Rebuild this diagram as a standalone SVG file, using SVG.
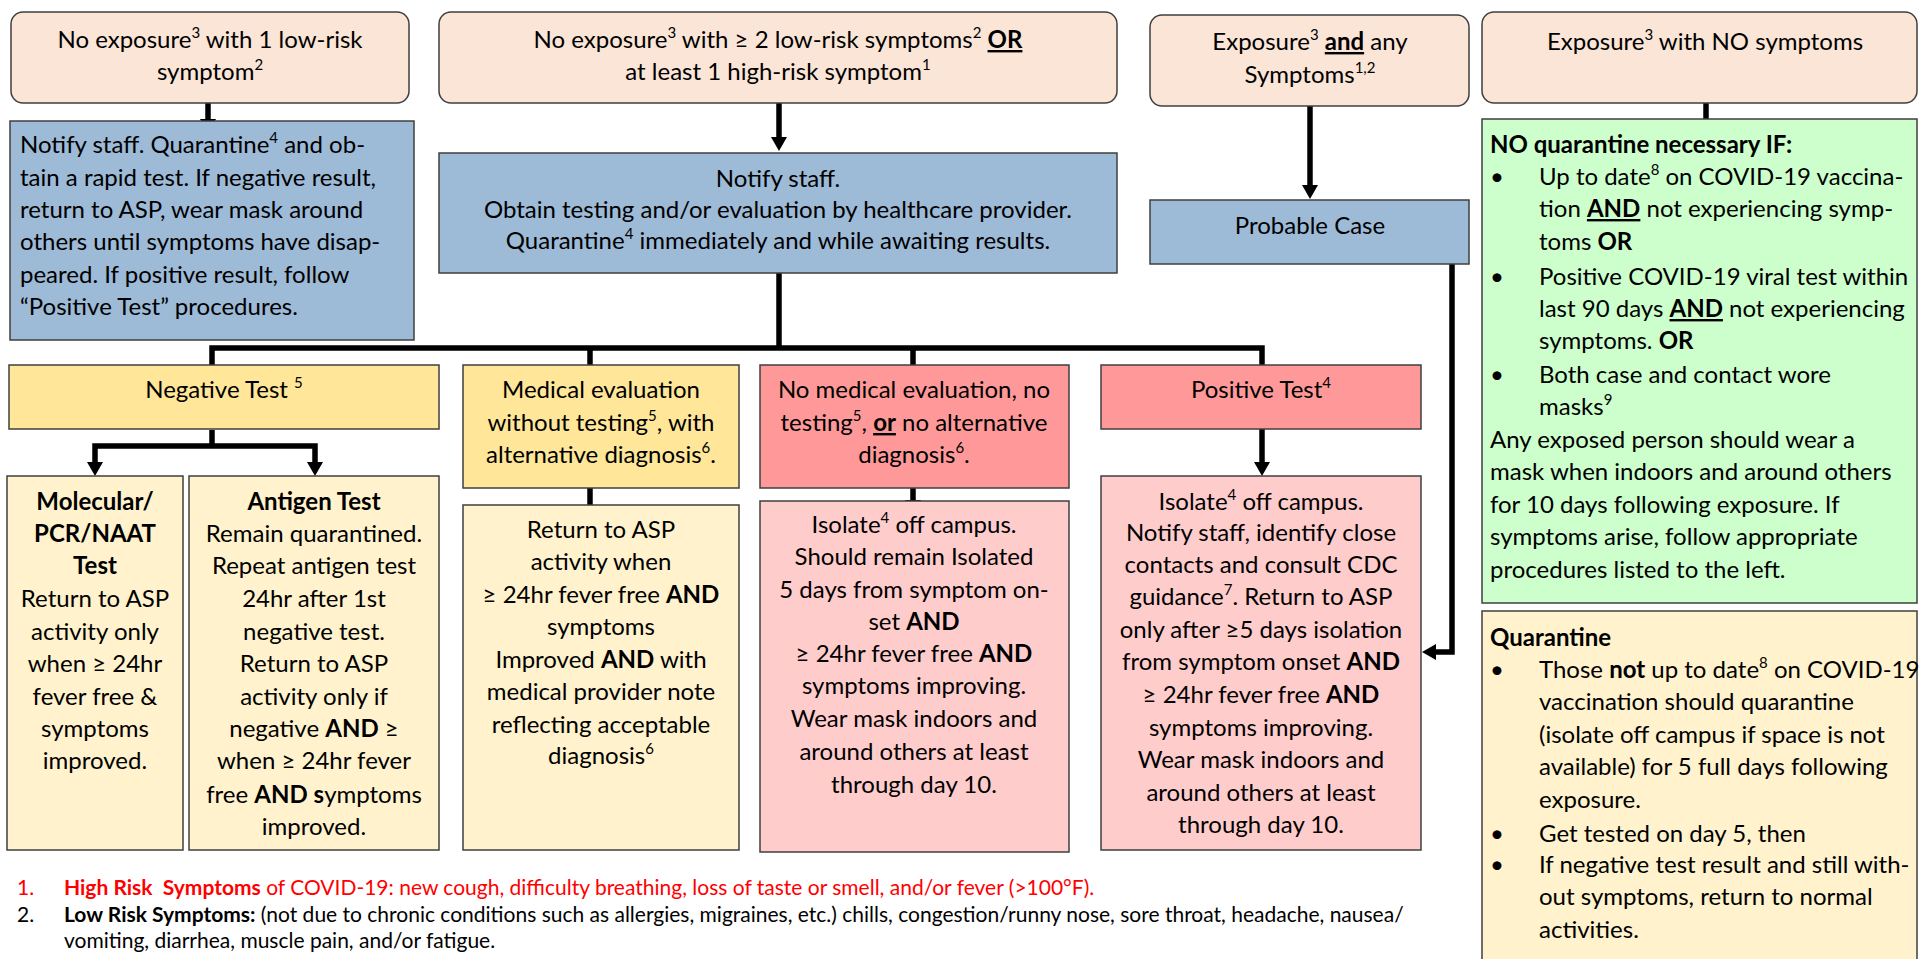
<svg xmlns="http://www.w3.org/2000/svg" width="1919" height="959" viewBox="0 0 1919 959">
<style>
.box{stroke:#3f3f3f;stroke-width:1.5}
.peach{fill:#FBE5D6}
.blue{fill:#9DBAD7}
.gold{fill:#FFE699}
.ly{fill:#FFF2CC}
.sal{fill:#FF9999}
.pink{fill:#FFCCCC}
.green{fill:#CCFFCC}
.t{font-family:Lato,"Liberation Sans",sans-serif;font-size:24px;fill:#000}
.c{text-anchor:middle}
.b{font-weight:bold}
.u{text-decoration:underline}
.s{font-size:15px}
.fn{font-size:21px}
.red{fill:#FF0000}
.ln{fill:none;stroke:#000;stroke-width:5.5}
</style>
<defs>
<path id="ad" d="M-8,-14 L8,-14 L0,0 Z" fill="#000"/>
<path id="al" d="M14,-8 L14,8 L0,0 Z" fill="#000"/>
</defs>
<rect width="1919" height="959" fill="#fff"/>

<g id="connectors">
<path class="ln" d="M208,103 V120"/><use href="#ad" x="208" y="133"/>
<path class="ln" d="M779,103 V138"/><use href="#ad" x="779" y="151"/>
<path class="ln" d="M1310,106 V186"/><use href="#ad" x="1310" y="199"/>
<path class="ln" d="M1706,103 V120"/><use href="#ad" x="1706" y="133"/>
<path class="ln" d="M779,273 V348"/>
<path class="ln" d="M212,368 V348 H1262 V368"/>
<path class="ln" d="M590,348 V368"/>
<path class="ln" d="M913,348 V368"/>
<use href="#ad" x="212" y="381"/><use href="#ad" x="590" y="381"/><use href="#ad" x="913" y="381"/><use href="#ad" x="1262" y="381"/>
<path class="ln" d="M212,430 V446"/>
<path class="ln" d="M95,463 V446 H315 V463"/>
<use href="#ad" x="95" y="476"/><use href="#ad" x="315" y="476"/>
<path class="ln" d="M590,488 V506"/><use href="#ad" x="590" y="519"/>
<path class="ln" d="M913,488 V501"/><use href="#ad" x="913" y="514"/>
<path class="ln" d="M1262,429 V463"/><use href="#ad" x="1262" y="476"/>
<path class="ln" d="M1452,264 V652 H1434"/><use href="#al" x="1422" y="652"/>
</g>

<g id="n1">
<rect class="box peach" x="11" y="12" width="398" height="91" rx="12"/>
<text class="t c"><tspan x="210" y="48">No exposure<tspan class="s" dy="-10">3</tspan><tspan dy="10"> with 1 low-risk</tspan></tspan><tspan x="210" y="80">symptom<tspan class="s" dy="-10">2</tspan></tspan></text>
</g>

<g id="n2">
<rect class="box peach" x="439" y="12" width="678" height="91" rx="12"/>
<text class="t c"><tspan x="778" y="48">No exposure<tspan class="s" dy="-10">3</tspan><tspan dy="10"> with ≥ 2 low-risk symptoms</tspan><tspan class="s" dy="-10">2</tspan><tspan dy="10"> </tspan><tspan class="b u">OR</tspan></tspan><tspan x="778" y="80">at least 1 high-risk symptom<tspan class="s" dy="-10">1</tspan></tspan></text>
</g>

<g id="n3">
<rect class="box peach" x="1150" y="15" width="319" height="91" rx="12"/>
<text class="t c"><tspan x="1310" y="50">Exposure<tspan class="s" dy="-10">3</tspan><tspan dy="10"> </tspan><tspan class="b u">and</tspan> any</tspan><tspan x="1310" y="83">Symptoms<tspan class="s" dy="-10">1,2</tspan></tspan></text>
</g>

<g id="n4">
<rect class="box peach" x="1482" y="12" width="435" height="91" rx="12"/>
<text class="t c"><tspan x="1705" y="50">Exposure<tspan class="s" dy="-10">3</tspan><tspan dy="10"> with NO symptoms</tspan></tspan></text>
</g>

<g id="n5">
<rect class="box blue" x="10" y="121" width="404" height="219"/>
<text class="t"><tspan x="20" y="153">Notify staff. Quarantine<tspan class="s" dy="-10">4</tspan><tspan dy="10"> and ob-</tspan></tspan><tspan x="20" y="186">tain a rapid test. If negative result,</tspan><tspan x="20" y="218">return to ASP, wear mask around</tspan><tspan x="20" y="250">others until symptoms have disap-</tspan><tspan x="20" y="283">peared. If positive result, follow</tspan><tspan x="20" y="315">“Positive Test” procedures.</tspan></text>
</g>

<g id="n6">
<rect class="box blue" x="439" y="153" width="678" height="120"/>
<text class="t c"><tspan x="778" y="187">Notify staff.</tspan><tspan x="778" y="218">Obtain testing and/or evaluation by healthcare provider.</tspan><tspan x="778" y="249">Quarantine<tspan class="s" dy="-10">4</tspan><tspan dy="10"> immediately and while awaiting results.</tspan></tspan></text>
</g>

<g id="n7">
<rect class="box blue" x="1150" y="200" width="319" height="64"/>
<text class="t c" x="1310" y="234">Probable Case</text>
</g>

<g id="n8">
<rect class="box green" x="1482" y="119" width="435" height="484"/>
<text class="t"><tspan class="b" x="1490" y="153">NO quarantine necessary IF:</tspan>
<tspan x="1490" y="185">•</tspan><tspan x="1539" y="185">Up to date<tspan class="s" dy="-10">8</tspan><tspan dy="10"> on COVID-19 vaccina-</tspan></tspan>
<tspan x="1539" y="217">tion <tspan class="b u">AND</tspan> not experiencing symp-</tspan>
<tspan x="1539" y="250">toms <tspan class="b">OR</tspan></tspan>
<tspan x="1490" y="285">•</tspan><tspan x="1539" y="285">Positive COVID-19 viral test within</tspan>
<tspan x="1539" y="317">last 90 days <tspan class="b u">AND</tspan> not experiencing</tspan>
<tspan x="1539" y="349">symptoms. <tspan class="b">OR</tspan></tspan>
<tspan x="1490" y="383">•</tspan><tspan x="1539" y="383">Both case and contact wore</tspan>
<tspan x="1539" y="415">masks<tspan class="s" dy="-10">9</tspan></tspan>
<tspan x="1490" y="448">Any exposed person should wear a</tspan>
<tspan x="1490" y="480">mask when indoors and around others</tspan>
<tspan x="1490" y="513">for 10 days following exposure. If</tspan>
<tspan x="1490" y="545">symptoms arise, follow appropriate</tspan>
<tspan x="1490" y="578">procedures listed to the left.</tspan></text>
</g>

<g id="n9">
<rect class="box ly" x="1482" y="611" width="435" height="352"/>
<text class="t"><tspan class="b" x="1490" y="646">Quarantine</tspan>
<tspan x="1490" y="678">•</tspan><tspan x="1539" y="678">Those <tspan class="b">not</tspan> up to date<tspan class="s" dy="-10">8</tspan><tspan dy="10"> on COVID-19</tspan></tspan>
<tspan x="1539" y="710">vaccination should quarantine</tspan>
<tspan x="1539" y="743">(isolate off campus if space is not</tspan>
<tspan x="1539" y="775">available) for 5 full days following</tspan>
<tspan x="1539" y="808">exposure.</tspan>
<tspan x="1490" y="842">•</tspan><tspan x="1539" y="842">Get tested on day 5, then</tspan>
<tspan x="1490" y="873">•</tspan><tspan x="1539" y="873">If negative test result and still with-</tspan>
<tspan x="1539" y="905">out symptoms, return to normal</tspan>
<tspan x="1539" y="938">activities.</tspan></text>
</g>

<g id="n10">
<rect class="box gold" x="9" y="365" width="430" height="64"/>
<text class="t c"><tspan x="224" y="398">Negative Test <tspan class="s" dy="-10">5</tspan></tspan></text>
</g>

<g id="n11">
<rect class="box gold" x="463" y="365" width="276" height="123"/>
<text class="t c"><tspan x="601" y="398">Medical evaluation</tspan><tspan x="601" y="431">without testing<tspan class="s" dy="-10">5</tspan><tspan dy="10">, with</tspan></tspan><tspan x="601" y="463">alternative diagnosis<tspan class="s" dy="-10">6</tspan><tspan dy="10">.</tspan></tspan></text>
</g>

<g id="n12">
<rect class="box sal" x="760" y="365" width="309" height="123"/>
<text class="t c"><tspan x="914" y="398">No medical evaluation, no</tspan><tspan x="914" y="431">testing<tspan class="s" dy="-10">5</tspan><tspan dy="10">, </tspan><tspan class="b u">or</tspan> no alternative</tspan><tspan x="914" y="463">diagnosis<tspan class="s" dy="-10">6</tspan><tspan dy="10">.</tspan></tspan></text>
</g>

<g id="n13">
<rect class="box sal" x="1101" y="365" width="320" height="64"/>
<text class="t c"><tspan x="1261" y="398">Positive Test<tspan class="s" dy="-10">4</tspan></tspan></text>
</g>

<g id="n14">
<rect class="box ly" x="7" y="476" width="176" height="374"/>
<text class="t c"><tspan class="b" x="95" y="510">Molecular/</tspan><tspan class="b" x="95" y="542">PCR/NAAT</tspan><tspan class="b" x="95" y="574">Test</tspan><tspan x="95" y="607">Return to ASP</tspan><tspan x="95" y="640">activity only</tspan><tspan x="95" y="672">when ≥ 24hr</tspan><tspan x="95" y="705">fever free &amp;</tspan><tspan x="95" y="737">symptoms</tspan><tspan x="95" y="769">improved.</tspan></text>
</g>

<g id="n15">
<rect class="box ly" x="189" y="476" width="250" height="374"/>
<text class="t c"><tspan class="b" x="314" y="510">Antigen Test</tspan><tspan x="314" y="542">Remain quarantined.</tspan><tspan x="314" y="574">Repeat antigen test</tspan><tspan x="314" y="607">24hr after 1st</tspan><tspan x="314" y="640">negative test.</tspan><tspan x="314" y="672">Return to ASP</tspan><tspan x="314" y="705">activity only if</tspan><tspan x="314" y="737">negative <tspan class="b">AND</tspan> ≥</tspan><tspan x="314" y="769">when ≥ 24hr fever</tspan><tspan x="314" y="803">free <tspan class="b">AND s</tspan>ymptoms</tspan><tspan x="314" y="835">improved.</tspan></text>
</g>

<g id="n16">
<rect class="box ly" x="463" y="505" width="276" height="345"/>
<text class="t c"><tspan x="601" y="538">Return to ASP</tspan><tspan x="601" y="570">activity when</tspan><tspan x="601" y="603">≥ 24hr fever free <tspan class="b">AND</tspan></tspan><tspan x="601" y="635">symptoms</tspan><tspan x="601" y="668">Improved <tspan class="b">AND</tspan> with</tspan><tspan x="601" y="700">medical provider note</tspan><tspan x="601" y="733">reflecting acceptable</tspan><tspan x="601" y="764">diagnosis<tspan class="s" dy="-10">6</tspan></tspan></text>
</g>

<g id="n17">
<rect class="box pink" x="760" y="501" width="309" height="351"/>
<text class="t c"><tspan x="914" y="533">Isolate<tspan class="s" dy="-10">4</tspan><tspan dy="10"> off campus.</tspan></tspan><tspan x="914" y="565">Should remain Isolated</tspan><tspan x="914" y="598">5 days from symptom on-</tspan><tspan x="914" y="630">set <tspan class="b">AND</tspan></tspan><tspan x="914" y="662">≥ 24hr fever free <tspan class="b">AND</tspan></tspan><tspan x="914" y="694">symptoms improving.</tspan><tspan x="914" y="727">Wear mask indoors and</tspan><tspan x="914" y="760">around others at least</tspan><tspan x="914" y="793">through day 10.</tspan></text>
</g>

<g id="n18">
<rect class="box pink" x="1101" y="476" width="320" height="374"/>
<text class="t c"><tspan x="1261" y="510">Isolate<tspan class="s" dy="-10">4</tspan><tspan dy="10"> off campus.</tspan></tspan><tspan x="1261" y="541">Notify staff, identify close</tspan><tspan x="1261" y="573">contacts and consult CDC</tspan><tspan x="1261" y="605">guidance<tspan class="s" dy="-10">7</tspan><tspan dy="10">. Return to ASP</tspan></tspan><tspan x="1261" y="638">only after ≥5 days isolation</tspan><tspan x="1261" y="670">from symptom onset <tspan class="b">AND</tspan></tspan><tspan x="1261" y="703">≥ 24hr fever free <tspan class="b">AND</tspan></tspan><tspan x="1261" y="736">symptoms improving.</tspan><tspan x="1261" y="768">Wear mask indoors and</tspan><tspan x="1261" y="801">around others at least</tspan><tspan x="1261" y="833">through day 10.</tspan></text>
</g>

<g id="footnotes">
<text class="t fn red"><tspan x="17" y="895">1.</tspan><tspan x="64" y="895"><tspan class="b">High Risk&#160; Symptoms</tspan> of COVID-19: new cough, difficulty breathing, loss of taste or smell, and/or fever (&gt;100°F).</tspan></text>
<text class="t fn"><tspan x="17" y="922">2.</tspan><tspan x="64" y="922"><tspan class="b">Low Risk Symptoms:</tspan> (not due to chronic conditions such as allergies, migraines, etc.) chills, congestion/runny nose, sore throat, headache, nausea/</tspan><tspan x="64" y="948">vomiting, diarrhea, muscle pain, and/or fatigue.</tspan></text>
</g>
</svg>
